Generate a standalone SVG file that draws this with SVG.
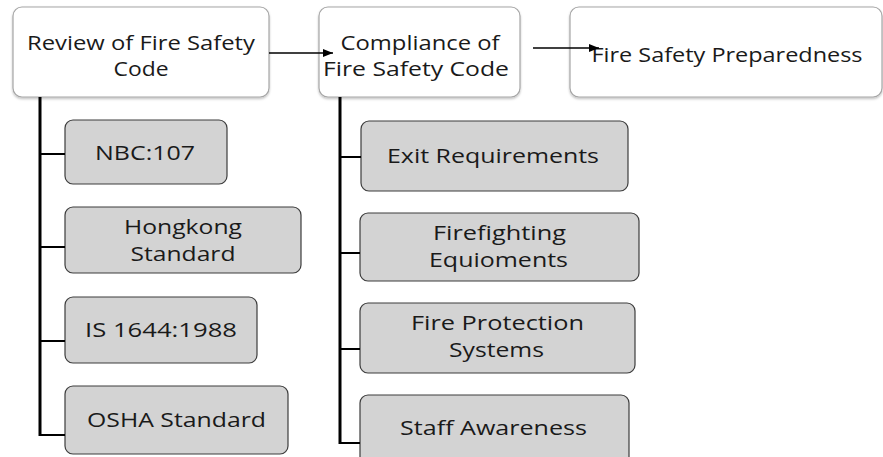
<svg xmlns="http://www.w3.org/2000/svg" width="883" height="457" viewBox="0 0 883 457">
<defs>
<marker id="ah" markerWidth="10" markerHeight="8" refX="10" refY="4" orient="auto" markerUnits="userSpaceOnUse">
<path d="M0,0 L10,4 L0,8 Z" fill="#000"/>
</marker>
<filter id="sh" x="-5%" y="-5%" width="110%" height="115%">
<feDropShadow dx="0" dy="1.5" stdDeviation="1" flood-color="#000" flood-opacity="0.25"/>
</filter>
</defs>
<style>
text{font-family:"Open Sans","DejaVu Sans",sans-serif;font-size:20px;fill:#1a1a1a;text-anchor:middle}
.top{fill:#fff;stroke:#a6a6a6;stroke-width:1.2}
.sub{fill:#d3d3d3;stroke:#3c3c3c;stroke-width:1.2}
.bar{stroke:#000;stroke-width:3;fill:none}
.tick{stroke:#000;stroke-width:2;fill:none}
.arr{stroke:#000;stroke-width:1.3;fill:none}
</style>
<rect width="883" height="457" fill="#fff"/>
<g id="n-review">
<rect class="top" x="13" y="7" width="256" height="90" rx="9" filter="url(#sh)"/>
<text x="141" y="50" textLength="228" lengthAdjust="spacingAndGlyphs">Review of Fire Safety</text>
<text x="141" y="76" textLength="55" lengthAdjust="spacingAndGlyphs">Code</text>
</g>
<g id="n-compliance">
<rect class="top" x="319" y="7" width="201" height="90" rx="9" filter="url(#sh)"/>
<text x="420" y="50" textLength="159" lengthAdjust="spacingAndGlyphs">Compliance of</text>
<text x="416" y="76" textLength="186" lengthAdjust="spacingAndGlyphs">Fire Safety Code</text>
</g>
<g id="n-preparedness">
<rect class="top" x="570" y="7" width="312" height="90" rx="9" filter="url(#sh)"/>
<text x="727" y="62" textLength="271" lengthAdjust="spacingAndGlyphs">Fire Safety Preparedness</text>
</g>
<g id="n-nbc">
<rect class="sub" x="65" y="120" width="162" height="64" rx="8"/>
<text x="145" y="160" textLength="100" lengthAdjust="spacingAndGlyphs">NBC:107</text>
</g>
<g id="n-hongkong">
<rect class="sub" x="65" y="207" width="236" height="66" rx="8"/>
<text x="183" y="234" textLength="118" lengthAdjust="spacingAndGlyphs">Hongkong</text>
<text x="183" y="261" textLength="105" lengthAdjust="spacingAndGlyphs">Standard</text>
</g>
<g id="n-is1644">
<rect class="sub" x="65" y="297" width="192" height="66" rx="8"/>
<text x="161" y="337" textLength="152" lengthAdjust="spacingAndGlyphs">IS 1644:1988</text>
</g>
<g id="n-osha">
<rect class="sub" x="65" y="386" width="223" height="68" rx="8"/>
<text x="176.5" y="427" textLength="179" lengthAdjust="spacingAndGlyphs">OSHA Standard</text>
</g>
<g id="n-exit">
<rect class="sub" x="361" y="121" width="267" height="70" rx="8"/>
<text x="493" y="163" textLength="212" lengthAdjust="spacingAndGlyphs">Exit Requirements</text>
</g>
<g id="n-firefighting">
<rect class="sub" x="360" y="213" width="279" height="68" rx="8"/>
<text x="499.5" y="240" textLength="133" lengthAdjust="spacingAndGlyphs">Firefighting</text>
<text x="498.5" y="267" textLength="139" lengthAdjust="spacingAndGlyphs">Equioments</text>
</g>
<g id="n-protection">
<rect class="sub" x="360" y="303" width="275" height="70" rx="8"/>
<text x="497.5" y="330" textLength="173" lengthAdjust="spacingAndGlyphs">Fire Protection</text>
<text x="496.5" y="357" textLength="95" lengthAdjust="spacingAndGlyphs">Systems</text>
</g>
<g id="n-staff">
<rect class="sub" x="360" y="395" width="269" height="70" rx="8"/>
<text x="493.5" y="435" textLength="187" lengthAdjust="spacingAndGlyphs">Staff Awareness</text>
</g>
<g id="connectors">
<path class="bar" d="M40,97 V436"/>
<path class="tick" d="M40,154 H65 M40,247 H65 M40,341 H65 M40,435 H65"/>
<path class="bar" d="M340,97 V444"/>
<path class="tick" d="M340,157 H361 M340,253 H360 M340,349 H360 M340,443 H360"/>
<path class="arr" d="M269,53 H333" marker-end="url(#ah)"/>
<path class="arr" d="M533,48 H599" marker-end="url(#ah)"/>
</g>
</svg>
